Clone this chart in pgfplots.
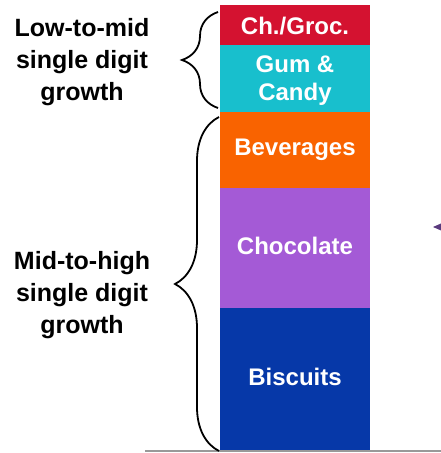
\documentclass[border=0pt]{standalone}
\usepackage{pgfplots}
\pgfplotsset{compat=1.18}
\usepackage{fontspec}
\setmainfont{Liberation Sans}
\usetikzlibrary{decorations.pathreplacing}

\definecolor{biscuit}{HTML}{0638A8}
\definecolor{choco}{HTML}{A45AD6}
\definecolor{bev}{HTML}{F96300}
\definecolor{gum}{HTML}{18BFCD}
\definecolor{groc}{HTML}{D41230}
\definecolor{arrowpurple}{HTML}{5A3A7E}

\begin{document}
\begin{tikzpicture}[x=1pt, y=1pt]
\useasboundingbox (0,0) rectangle (441,453);
\begin{axis}[
    at={(0,0)}, anchor=south west,
    scale only axis,
    width=441pt, height=453pt,
    xmin=0, xmax=441,
    ymin=-0.45, ymax=101.12,
    hide axis,
    ybar stacked,
    bar width=150,
    ]
% share of sales, bottom to top
\addplot[fill=biscuit, draw=none] coordinates {(295,32)};
\addplot[fill=choco, draw=none] coordinates {(295,27)};
\addplot[fill=bev, draw=none] coordinates {(295,17)};
\addplot[fill=gum, draw=none] coordinates {(295,15)};
\addplot[fill=groc, draw=none] coordinates {(295,9)};
\end{axis}

% picture coordinates: x = pixel x, y = 453 - pixel y
% baseline
\draw[black!40, line width=1.8pt] (145,2) -- (441,2);

% segment labels
\begin{scope}[every node/.style={text=white, align=center,
    font=\bfseries\fontsize{24}{28}\selectfont}]
\node at (295,76) {Biscuits};
\node at (295,207) {Chocolate};
\node at (295,303) {Beverages};
\node at (295,372) {Gum \&\\Candy};
\node at (295,427) {Ch./Groc.};
\end{scope}

% braces
\draw[line width=1.8pt, decorate, decoration={brace, amplitude=36pt}]
    (218,345) -- (218,441);
\draw[line width=1.8pt, decorate, decoration={brace, amplitude=44pt}]
    (219,2) -- (219,336);

\begin{scope}[every node/.style={align=center,
    font=\bfseries\fontsize{25}{32}\selectfont}]
\node at (82,391) {Low-to-mid\\single digit\\growth};
\node at (82,158) {Mid-to-high\\single digit\\growth};
\end{scope}

% cut-off arrow at the right edge
\fill[arrowpurple] (433,226) -- (441,229.5) -- (441,222.5) -- cycle;
\end{tikzpicture}
\end{document}
